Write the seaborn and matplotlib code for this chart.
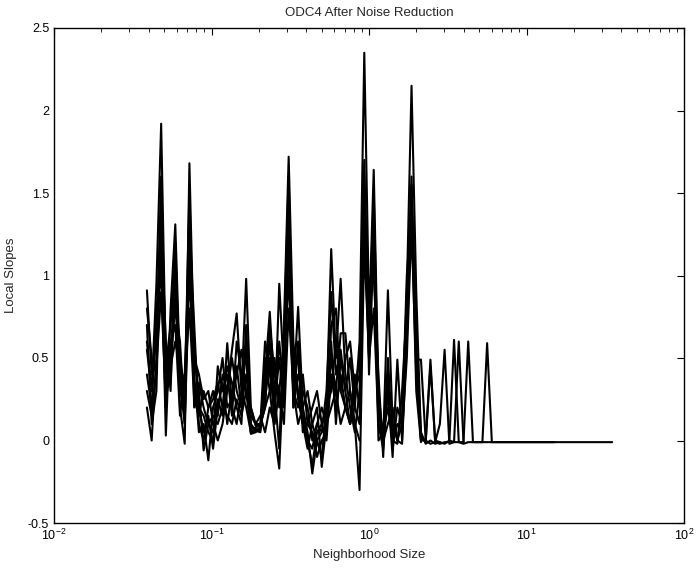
import numpy as np
import pandas as pd
import matplotlib
matplotlib.use("Agg")
import matplotlib.pyplot as plt
import matplotlib.ticker as mticker
import seaborn as sns

# Neighborhood sizes shared by all runs (log-spaced, 0.03 decades apart)
sizes = [
    0.0389, 0.0417, 0.0447, 0.0479, 0.0513, 0.0550, 0.0589, 0.0631, 0.0676, 0.0724,
    0.0776, 0.0832, 0.0891, 0.0955, 0.1023, 0.1096, 0.1175, 0.1259, 0.1349, 0.1445,
    0.1549, 0.1660, 0.1778, 0.1905, 0.2042, 0.2188, 0.2344, 0.2512, 0.2692, 0.2884,
    0.3090, 0.3311, 0.3548, 0.3802, 0.4074, 0.4365, 0.4677, 0.5012, 0.5370, 0.5754,
    0.6166, 0.6607, 0.7079, 0.7586, 0.8128, 0.8710, 0.9333, 1.0000, 1.0715, 1.1482,
    1.2303, 1.3183, 1.4125, 1.5136, 1.6218, 1.7378, 1.8621, 1.9953, 2.1380, 2.2909,
    2.4547, 2.6303, 2.8184, 3.0200, 3.2359, 3.4674, 3.7154, 3.9811, 4.2658, 4.5709,
    4.8978, 5.2481, 5.6234, 6.0256,
]

# Local slopes of each run
run1 = [
    0.55, 0.30, 0.95, 1.92, 0.45, 0.70, 1.10, 0.35, 0.10, 1.20,
    0.60, 0.20, 0.05, 0.15, -0.05, 0.20, 0.35, 0.10, 0.30, 0.45,
    0.20, 0.60, 0.08, 0.07, 0.06, 0.40, 0.78, 0.30, -0.05, 0.70,
    1.72, 0.60, 0.25, 0.10, 0.00, -0.05, 0.10, 0.05, 0.30, 0.90,
    0.40, 0.55, 0.30, 0.10, 0.20, 0.60, 2.35, 0.80, 1.30, 0.20,
    -0.02, 0.40, -0.05, 0.20, 0.10, 0.90, 2.15, 0.90, 0.02, -0.01,
    0.49, -0.01, -0.02, -0.01, -0.01, 0.61, -0.01, -0.02, -0.01, -0.01,
    -0.01, -0.01, 0.59, -0.01,
]
run2 = [
    0.91, 0.40, 0.60, 1.50, 0.30, 0.55, 0.90, 0.20, -0.02, 1.68,
    0.50, 0.30, -0.06, 0.10, 0.05, 0.25, 0.15, 0.59, 0.20, 0.10,
    0.30, 0.20, 0.05, 0.06, 0.08, 0.25, 0.50, 0.10, 0.95, 0.40,
    1.40, 0.30, 0.81, 0.20, 0.05, -0.20, 0.00, -0.10, 0.20, 1.16,
    0.50, 0.98, 0.40, 0.20, 0.05, 0.30, 1.50, 0.70, 1.64, 0.30,
    0.00, 0.91, 0.10, 0.00, -0.02, 0.60, 1.45, 0.49, 0.49, 0.00,
    -0.02, -0.01, 0.10, 0.55, -0.02, -0.01, -0.01, -0.01, 0.60, -0.01,
    -0.01, -0.01, -0.01, -0.01,
]
run3 = [
    0.20, 0.00, 0.50, 1.20, 0.03, 0.80, 1.31, 0.40, 0.20, 1.30,
    0.71, 0.10, 0.00, 0.20, 0.30, 0.15, 0.40, 0.30, 0.55, 0.77,
    0.30, 0.98, 0.20, 0.09, 0.10, 0.60, 0.40, 0.20, 0.60, 0.30,
    1.30, 0.50, 0.30, 0.10, -0.05, 0.10, 0.20, -0.16, 0.10, 0.50,
    0.30, 0.65, 0.65, 0.30, 0.10, -0.30, 1.20, 0.50, 1.40, 0.10,
    -0.05, 0.30, -0.10, 0.49, 0.00, 0.70, 1.55, 0.60, 0.05, -0.02,
    0.00, -0.02, -0.01, -0.02, 0.00, -0.01, 0.60, -0.01,
]
run4 = [
    0.70, 0.10, 0.30, 1.40, 0.50, 0.35, 1.00, 0.50, 0.30, 1.50,
    0.40, 0.05, 0.10, -0.12, 0.20, 0.30, 0.50, 0.20, 0.25, 0.40,
    0.55, 0.30, 0.04, 0.05, 0.07, 0.30, 0.60, 0.20, 0.50, 0.20,
    1.50, 0.40, 0.50, 0.05, 0.10, 0.05, -0.10, 0.00, 0.05, 0.70,
    0.80, 0.30, 0.50, 0.60, 0.30, 0.40, 1.70, 0.40, 1.20, 0.00,
    0.05, 0.20, 0.00, -0.02, 0.30, 0.80, 1.60, 0.50, 0.00, 0.00,
    0.45, 0.00, -0.01,
]
run5 = [
    0.40, 0.20, 0.80, 1.00, 0.20, 0.60, 0.70, 0.15, 0.40, 1.10,
    0.30, 0.20, 0.15, 0.05, 0.00, 0.45, 0.30, 0.40, 0.15, 0.60,
    0.40, 0.50, 0.10, 0.06, 0.05, 0.50, 0.30, 0.05, -0.17, 0.50,
    1.20, 0.20, 0.60, 0.15, 0.00, -0.15, 0.05, 0.10, 0.00, 0.40,
    0.20, 0.40, 0.20, 0.10, 0.40, 0.20, 1.40, 0.90, 1.00, 0.40,
    -0.10, 0.50, 0.00, 0.10, 0.05, 0.50, 1.30, 0.40, 0.00,
]
run6 = [
    0.60, 0.30, 0.70, 1.30, 0.60, 0.30, 1.20, 0.30, 0.20, 1.40,
    0.20, 0.35, 0.20, 0.10, 0.15, 0.10, 0.20, 0.45, 0.35, 0.20,
    0.10, 0.70, 0.05, 0.08, 0.09, 0.20, 0.70, 0.40, 0.30, 0.60,
    1.60, 0.20, 0.40, 0.30, 0.20, 0.00, 0.10, 0.20, 0.10, 0.60,
    0.10, 0.50, 0.30, 0.50, 0.20, 0.10, 1.60, 0.60, 1.50, 0.20,
    0.00, 0.10, 0.20, 0.00, 0.10, 1.00, 1.40, 0.30, -0.01,
]
run7 = [
    0.80, 0.50, 0.40, 1.60, 0.40, 0.50, 0.80, 0.60, 0.10, 1.00,
    0.50, 0.40, 0.25, 0.30, 0.10, 0.00, 0.10, 0.30, 0.50, 0.30,
    0.20, 0.40, 0.15, 0.10, 0.10, 0.20, 0.30, 0.50, 0.20, 0.40,
    1.00, 0.30, 0.20, 0.40, 0.10, 0.20, 0.30, 0.10, 0.20, 0.30,
    0.60, 0.30, 0.20, 0.10, 0.30, 0.50, 1.30, 0.50, 0.80, 0.10,
    0.00,
]
run8 = [
    0.30, 0.15, 0.45, 0.90, 0.25, 0.45, 0.60, 0.45, 0.35, 0.80,
    0.25, 0.15, 0.30, 0.20, 0.25, 0.35, 0.20, 0.15, 0.10, 0.25,
    0.15, 0.30, 0.20, 0.10, 0.15, 0.05, 0.20, 0.10, 0.30, 0.10,
    0.80, 0.30, 0.10, 0.20, 0.30, 0.10, 0.00, 0.05, 0.10, 0.20,
    0.30, 0.10, 0.20, 0.30, 0.10, 0.00,
]

# Flat tails of the two longest runs at large neighborhood sizes
tail1_sizes = [15.0, 35.0]
tail1_slopes = [-0.01, -0.01]
tail2_sizes = [15.0]
tail2_slopes = [-0.01]

runs = [run1, run2, run3, run4, run5, run6, run7, run8]
tails = {0: (tail1_sizes, tail1_slopes), 1: (tail2_sizes, tail2_slopes)}

frames = []
for k, vals in enumerate(runs):
    xs = list(sizes[:len(vals)])
    ys = list(vals)
    if k in tails:
        xs += tails[k][0]
        ys += tails[k][1]
    frames.append(pd.DataFrame({"size": xs, "slope": ys, "run": k}))
df = pd.concat(frames, ignore_index=True)

sns.set_theme(style="white")
plt.rcParams["font.family"] = ["Liberation Sans", "DejaVu Sans"]
plt.rcParams["axes.unicode_minus"] = False
plt.rcParams["mathtext.fontset"] = "custom"
plt.rcParams["mathtext.rm"] = "Liberation Sans"

fig = plt.figure(figsize=(6.98, 5.71), dpi=100)
ax = fig.add_axes([54 / 698, 1 - 523 / 571, 630 / 698, 495 / 571])

sns.lineplot(data=df, x="size", y="slope", units="run", estimator=None,
             color="black", linewidth=1.5, ax=ax, legend=False)

ax.set_xscale("log")
ax.set_xlim(1e-2, 1e2)
ax.set_ylim(-0.5, 2.5)
ax.set_yticks([-0.5, 0, 0.5, 1, 1.5, 2, 2.5])
ax.yaxis.set_major_formatter(mticker.FuncFormatter(lambda v, p: f"{v:g}"))
ax.xaxis.set_major_locator(mticker.LogLocator(base=10, numticks=10))
ax.xaxis.set_minor_locator(mticker.LogLocator(base=10, subs=np.arange(2, 10), numticks=50))

for s in ax.spines.values():
    s.set_color("black")
    s.set_linewidth(1.0)
ax.tick_params(which="both", direction="in", top=True, right=True,
               colors="black", labelsize=9)
ax.tick_params(which="major", length=5, width=0.8)
ax.tick_params(which="minor", length=3, width=0.6)

ax.set_xlabel("Neighborhood Size", fontsize=9.5, labelpad=4)
ax.set_ylabel("Local Slopes", fontsize=9.5, labelpad=8)
ax.set_title("ODC4 After Noise Reduction", fontsize=9.5, pad=9)

fig.savefig("out.png", dpi=100)
